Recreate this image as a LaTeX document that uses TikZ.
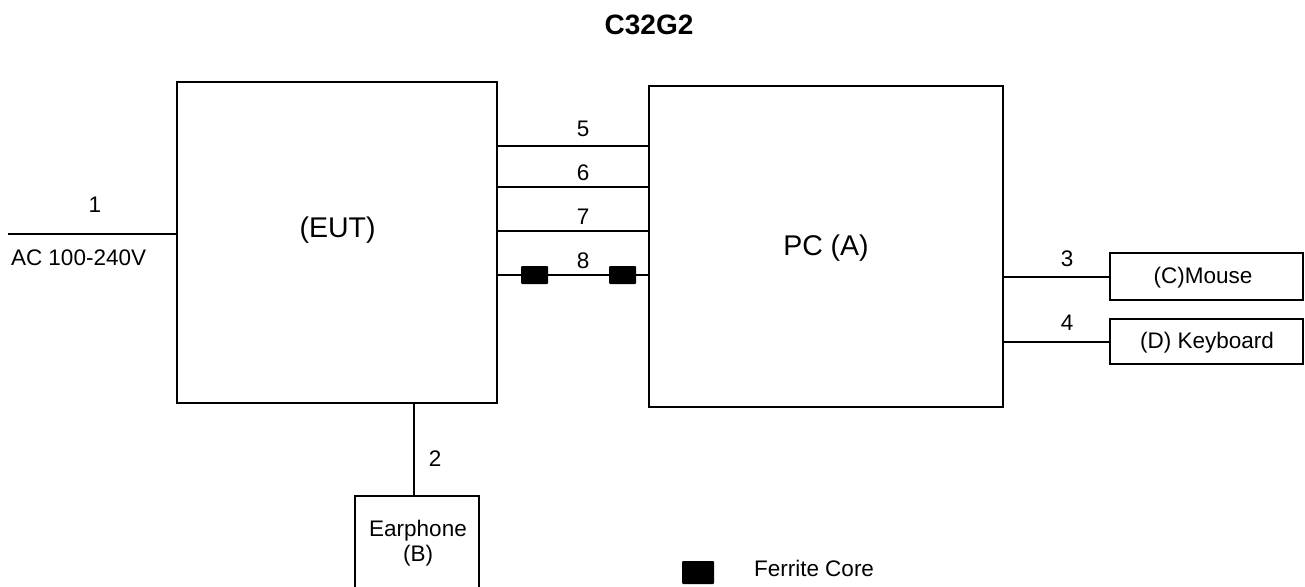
\documentclass[tikz,border=0pt]{standalone}
\usepackage{fontspec}
\setmainfont{Liberation Sans}
\begin{document}
\begin{tikzpicture}[x=1pt,y=-1pt,line width=2pt,
  box/.style={draw,line width=2pt,inner sep=0pt,outer sep=0pt},
  lbl/.style={anchor=base,inner sep=0pt,font=\fontsize{22.5}{26}\selectfont},
  lblw/.style={anchor=base west,inner sep=0pt,font=\fontsize{22.5}{26}\selectfont},
  big/.style={anchor=base,inner sep=0pt,font=\fontsize{28.5}{32}\selectfont},
  ferrite/.style={fill=black,draw=none,inner sep=0pt,outer sep=0pt,minimum width=27pt,minimum height=18pt,rounded corners=1pt}]
\useasboundingbox (0,0) rectangle (1305,586);
% title
\node[anchor=base,inner sep=0pt,font=\fontsize{28}{32}\selectfont\bfseries] (title) at (649,35) {C32G2};
% main boxes
\node[box,minimum width=320pt,minimum height=321pt] (eut) at (337,242.5) {};
\node[big] (eutt) at (337.5,237) {(EUT)};
\node[box,minimum width=354pt,minimum height=321pt] (pc) at (826,246.5) {};
\node[big] (pct) at (826,255) {PC (A)};
\node[box,minimum width=193pt,minimum height=47pt] (mouse) at (1206.5,276.5) {};
\node[lbl] (mouset) at (1203,283) {(C)Mouse};
\node[box,minimum width=193pt,minimum height=45pt] (kbd) at (1206.5,341.5) {};
\node[lbl] (kbdt) at (1207,348) {(D) Keyboard};
\node[box,minimum width=124pt,minimum height=100pt] (ear) at (417,546) {};
\node[lbl] (eart) at (418,536.7) {Earphone};
\node[lbl] (earb) at (418,561.7) {(B)};
% cable 1
\coordinate (ac) at (8,233.5);
\draw (ac) -- (ac -| eut.west);
\node[lbl] (l1) at (95,212.7) {1};
\node[lblw] (acl) at (10,265) {AC 100-240V};
% cables 5-8
\draw (eut.east |- 0,146) -- (pc.west |- 0,146);
\draw (eut.east |- 0,186.5) -- (pc.west |- 0,186.5);
\draw (eut.east |- 0,230.5) -- (pc.west |- 0,230.5);
\draw (eut.east |- 0,274.5) -- (pc.west |- 0,274.5);
\node[lbl] (l5) at (583,136.7) {5};
\node[lbl] (l6) at (583,180) {6};
\node[lbl] (l7) at (583,224) {7};
\node[lbl] (l8) at (583,268) {8};
\node[ferrite] (fc1) at (534.5,275) {};
\node[ferrite] (fc2) at (622.5,275) {};
% cables 3,4
\draw (pc.east |- mouse.west) -- (mouse.west);
\node[lbl] (l3) at (1067,266.7) {3};
\draw (pc.east |- kbd.west) -- (kbd.west);
\node[lbl] (l4) at (1067,330) {4};
% cable 2
\draw (eut.south -| 414,0) -- (ear.north -| 414,0);
\node[lbl] (l2) at (435,466.7) {2};
% legend
\node[ferrite,minimum width=32pt,minimum height=23pt] (leg) at (698,572.5) {};
\node[lblw] (legt) at (753,576.7) {Ferrite Core};
\end{tikzpicture}
\end{document}
